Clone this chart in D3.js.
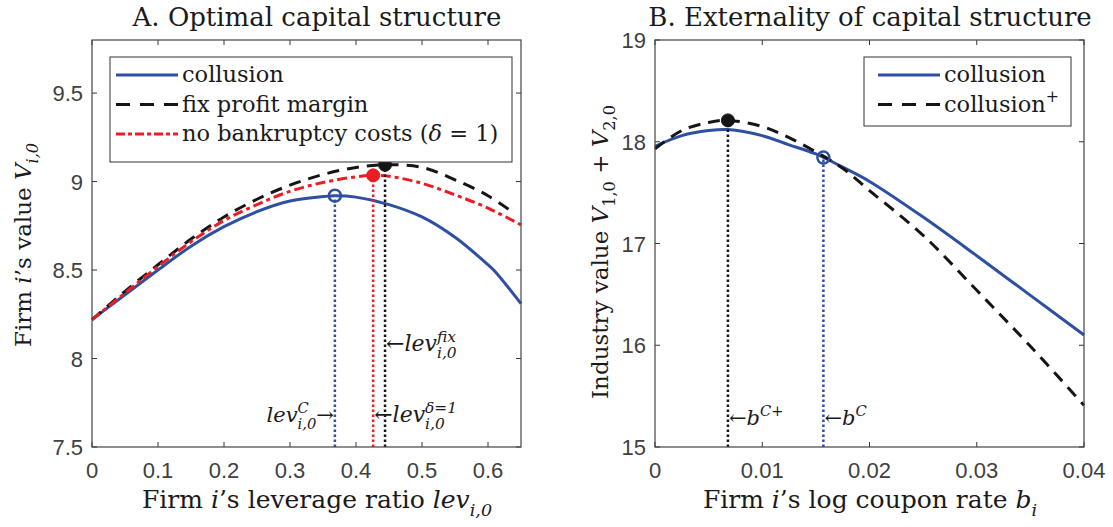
<!DOCTYPE html>
<html>
<head>
<meta charset="utf-8">
<script src="https://cdn.jsdelivr.net/npm/d3@7"></script>
<style>
  body { margin: 0; background: #fff; }
  svg { font-family: "DejaVu Serif", serif; }
  svg text { white-space: pre; }
  .tick-label { font-family: "Liberation Sans", Arial, sans-serif; fill: #404040; }
</style>
</head>
<body>
<svg width="1113" height="527"></svg>
<script>
// Panel A: firm value against leverage
const collusionLev = [0, 0.05, 0.1, 0.15, 0.2, 0.25, 0.3, 0.35, 0.368, 0.4, 0.45, 0.5, 0.55, 0.6, 0.61, 0.65];
const collusionVal = [8.22, 8.36, 8.50, 8.635, 8.745, 8.83, 8.89, 8.915, 8.92, 8.912, 8.87, 8.80, 8.685, 8.53, 8.495, 8.31];
const fixLev = [0, 0.05, 0.1, 0.15, 0.2, 0.25, 0.3, 0.35, 0.4, 0.444, 0.5, 0.55, 0.6, 0.64];
const fixVal = [8.22, 8.38, 8.53, 8.675, 8.80, 8.90, 8.98, 9.04, 9.08, 9.095, 9.08, 9.01, 8.92, 8.82];
const noBkLev = [0, 0.05, 0.1, 0.15, 0.2, 0.25, 0.3, 0.35, 0.4, 0.426, 0.45, 0.5, 0.55, 0.6, 0.65];
const noBkVal = [8.22, 8.37, 8.52, 8.66, 8.78, 8.87, 8.945, 8.995, 9.027, 9.035, 9.03, 8.99, 8.925, 8.85, 8.755];
const optLevA = [0.368, 0.444, 0.426];          // collusion, fix margin, delta=1
const optValA = [8.92, 9.095, 9.035];
const xTicksA = [0, 0.1, 0.2, 0.3, 0.4, 0.5, 0.6];
const yTicksA = [7.5, 8, 8.5, 9, 9.5];

// Panel B: industry value against coupon rate
const couponB = [0, 0.0025, 0.005, 0.0068, 0.01, 0.0125, 0.015, 0.0175, 0.02, 0.025, 0.03, 0.035, 0.04];
const industryCollusion = [17.955, 18.06, 18.11, 18.12, 18.06, 17.97, 17.88, 17.75, 17.61, 17.26, 16.88, 16.49, 16.10];
const industryPlus = [17.93, 18.11, 18.19, 18.21, 18.15, 18.04, 17.90, 17.74, 17.52, 17.08, 16.54, 15.99, 15.41];
const optCouponB = [0.0157, 0.0068];             // b^C, b^C+
const optValB = [17.845, 18.21];
const xTicksB = [0, 0.01, 0.02, 0.03, 0.04];
const yTicksB = [15, 16, 17, 18, 19];

const BLUE = "#2f4fa3", RED = "#ec1c24", BLACK = "#151515";
const svg = d3.select("svg");

// lays out pieces of mixed roman / italic / sub / sup text one after another
function richText(parent, parts, size, anchor) {
  const g = parent.append("g");
  let x = 0, held = 0;
  parts.forEach(p => {
    const s = p.pos ? size * 0.7 : size;
    const dy = p.pos === "sub" ? size * 0.3 : p.pos === "sup" ? -size * 0.42 : 0;
    const t = g.append("text")
      .attr("x", x).attr("y", dy)
      .attr("xml:space", "preserve")
      .attr("font-size", s)
      .attr("font-style", p.it ? "italic" : "normal")
      .attr("fill", "#1a1a1a")
      .text(p.t);
    const w = t.node().getComputedTextLength();
    if (p.keep) held = w;
    else { x += Math.max(w, held); held = 0; }
  });
  const shift = anchor === "middle" ? -x / 2 : anchor === "end" ? -x : 0;
  g.selectAll("text").attr("x", function() { return +d3.select(this).attr("x") + shift; });
  return g;
}

function frame(g, x, y, xTicks, yTicks, xFmt, yFmt) {
  const [x0, x1] = x.range(), [y0, y1] = y.range();
  const tl = 5;
  g.selectAll(".xt").data(xTicks).enter().append("path")
    .attr("d", d => `M${x(d)},${y0}v${-tl}M${x(d)},${y1}v${tl}`)
    .attr("stroke", "#333").attr("stroke-width", 1);
  g.selectAll(".yt").data(yTicks).enter().append("path")
    .attr("d", d => `M${x0},${y(d)}h${tl}M${x1},${y(d)}h${-tl}`)
    .attr("stroke", "#333").attr("stroke-width", 1);
  g.append("rect")
    .attr("x", x0).attr("y", y1).attr("width", x1 - x0).attr("height", y0 - y1)
    .attr("fill", "none").attr("stroke", "#444").attr("stroke-width", 1.2);
  g.selectAll(".xl").data(xTicks).enter().append("text")
    .attr("class", "tick-label")
    .attr("x", d => x(d)).attr("y", y0 + 31)
    .attr("text-anchor", "middle").attr("font-size", 22)
    .text(xFmt);
  g.selectAll(".yl").data(yTicks).enter().append("text")
    .attr("class", "tick-label")
    .attr("x", x0 - 9).attr("y", d => y(d) + 8)
    .attr("text-anchor", "end").attr("font-size", 22)
    .text(yFmt);
}

function curve(g, x, y, xs, ys, color, dash) {
  const line = d3.line().x(d => x(d[0])).y(d => y(d[1])).curve(d3.curveCatmullRom);
  g.append("path")
    .attr("d", line(d3.zip(xs, ys)))
    .attr("fill", "none").attr("stroke", color).attr("stroke-width", 3)
    .attr("stroke-dasharray", dash || null);
}

function dropLine(g, x, y, xv, yv, color) {
  g.append("line")
    .attr("x1", x(xv)).attr("x2", x(xv))
    .attr("y1", y.range()[0]).attr("y2", y(yv))
    .attr("stroke", color).attr("stroke-width", 2.5)
    .attr("stroke-dasharray", "2.5,2.5");
}

function marker(g, x, y, xv, yv, color, filled) {
  g.append("circle")
    .attr("cx", x(xv)).attr("cy", y(yv)).attr("r", filled ? 6.5 : 6)
    .attr("fill", filled ? color : "none")
    .attr("stroke", color).attr("stroke-width", filled ? 1 : 2.5);
}

function legend(g, x0, y0, w, h, pad, rows) {
  g.append("rect").attr("x", x0).attr("y", y0).attr("width", w).attr("height", h)
    .attr("fill", "#fff").attr("stroke", "#333").attr("stroke-width", 1);
  rows.forEach((r, i) => {
    const yy = y0 + 18 + i * 29.5;
    g.append("line")
      .attr("x1", x0 + pad).attr("x2", x0 + pad + 62).attr("y1", yy).attr("y2", yy)
      .attr("stroke", r.color).attr("stroke-width", 3)
      .attr("stroke-dasharray", r.dash || null);
    richText(g, r.parts, 22.5, "start").attr("transform", `translate(${x0 + pad + 66},${yy + 7})`);
  });
}

// ---------- Panel A ----------
const xA = d3.scaleLinear().domain([0, 0.65]).range([92, 521]);
const yA = d3.scaleLinear().domain([7.5, 9.8]).range([447, 40]);
const gA = svg.append("g");

curve(gA, xA, yA, collusionLev, collusionVal, BLUE);
curve(gA, xA, yA, fixLev, fixVal, BLACK, "12,8");
curve(gA, xA, yA, noBkLev, noBkVal, RED, "10,4,4,4");
dropLine(gA, xA, yA, optLevA[0], optValA[0], BLUE);
dropLine(gA, xA, yA, optLevA[2], optValA[2], RED);
dropLine(gA, xA, yA, optLevA[1], optValA[1], BLACK);
marker(gA, xA, yA, optLevA[0], optValA[0], BLUE, false);
marker(gA, xA, yA, optLevA[2], optValA[2], RED, true);
marker(gA, xA, yA, optLevA[1], optValA[1], BLACK, true);

richText(gA, [{t: "lev", it: true}, {t: "C", it: true, pos: "sup", keep: true}, {t: "i,0", it: true, pos: "sub"}, {t: "→"}], 21, "end")
  .attr("transform", `translate(${xA(optLevA[0]) - 1},${yA(7.64)})`);
richText(gA, [{t: "←"}, {t: "lev", it: true}, {t: "δ=1", it: true, pos: "sup", keep: true}, {t: "i,0", it: true, pos: "sub"}], 22, "start")
  .attr("transform", `translate(${xA(optLevA[2]) + 1},${yA(7.64)})`);
richText(gA, [{t: "←"}, {t: "lev", it: true}, {t: "fix", it: true, pos: "sup", keep: true}, {t: "i,0", it: true, pos: "sub"}], 22, "start")
  .attr("transform", `translate(${xA(optLevA[1]) + 1},${yA(8.04)})`);

legend(gA, 110, 57, 402, 105, 6, [
  {color: BLUE, parts: [{t: "collusion"}]},
  {color: BLACK, dash: "14,10", parts: [{t: "fix profit margin"}]},
  {color: RED, dash: "9,3,4,3", parts: [{t: "no bankruptcy costs ("}, {t: "δ", it: true}, {t: " = 1)"}]}
]);

frame(gA, xA, yA, xTicksA, yTicksA, d => d === 0 ? "0" : d3.format(".1f")(d), d => d % 1 === 0 ? d : d.toFixed(1));

richText(gA, [{t: "A. Optimal capital structure"}], 26, "middle").attr("transform", "translate(317,26)");
richText(gA, [{t: "Firm "}, {t: "i", it: true}, {t: "’s leverage ratio "}, {t: "lev", it: true}, {t: "i,0", it: true, pos: "sub"}], 25, "middle")
  .attr("transform", "translate(317,508)");
richText(gA, [{t: "Firm "}, {t: "i", it: true}, {t: "’s value "}, {t: "V", it: true}, {t: "i,0", it: true, pos: "sub"}], 23, "middle")
  .attr("transform", "translate(31,245) rotate(-90)");

// ---------- Panel B ----------
const xB = d3.scaleLinear().domain([0, 0.04]).range([655, 1084]);
const yB = d3.scaleLinear().domain([15, 19]).range([447, 40]);
const gB = svg.append("g");

curve(gB, xB, yB, couponB, industryCollusion, BLUE);
curve(gB, xB, yB, couponB, industryPlus, BLACK, "12,8");
dropLine(gB, xB, yB, optCouponB[1], optValB[1], BLACK);
dropLine(gB, xB, yB, optCouponB[0], optValB[0], BLUE);
marker(gB, xB, yB, optCouponB[1], optValB[1], BLACK, true);
marker(gB, xB, yB, optCouponB[0], optValB[0], BLUE, false);

richText(gB, [{t: "←"}, {t: "b", it: true}, {t: "C+", it: true, pos: "sup"}], 21, "start")
  .attr("transform", `translate(${xB(optCouponB[1]) + 1},${yB(15.22)})`);
richText(gB, [{t: "←"}, {t: "b", it: true}, {t: "C", it: true, pos: "sup"}], 21, "start")
  .attr("transform", `translate(${xB(optCouponB[0]) + 1},${yB(15.22)})`);

legend(gB, 864, 57, 207, 69, 14, [
  {color: BLUE, parts: [{t: "collusion"}]},
  {color: BLACK, dash: "14,10", parts: [{t: "collusion"}, {t: "+", pos: "sup"}]}
]);

frame(gB, xB, yB, xTicksB, yTicksB, d => d === 0 ? "0" : d3.format(".2f")(d), d => d);

richText(gB, [{t: "B. Externality of capital structure"}], 26, "middle").attr("transform", "translate(870,26)");
richText(gB, [{t: "Firm "}, {t: "i", it: true}, {t: "’s log coupon rate "}, {t: "b", it: true}, {t: "i", it: true, pos: "sub"}], 25, "middle")
  .attr("transform", "translate(870,508)");
richText(gB, [{t: "Industry value "}, {t: "V", it: true}, {t: "1,0", pos: "sub"}, {t: " + "}, {t: "V", it: true}, {t: "2,0", pos: "sub"}], 23, "middle")
  .attr("transform", "translate(608,252) rotate(-90)");
</script>
</body>
</html>
